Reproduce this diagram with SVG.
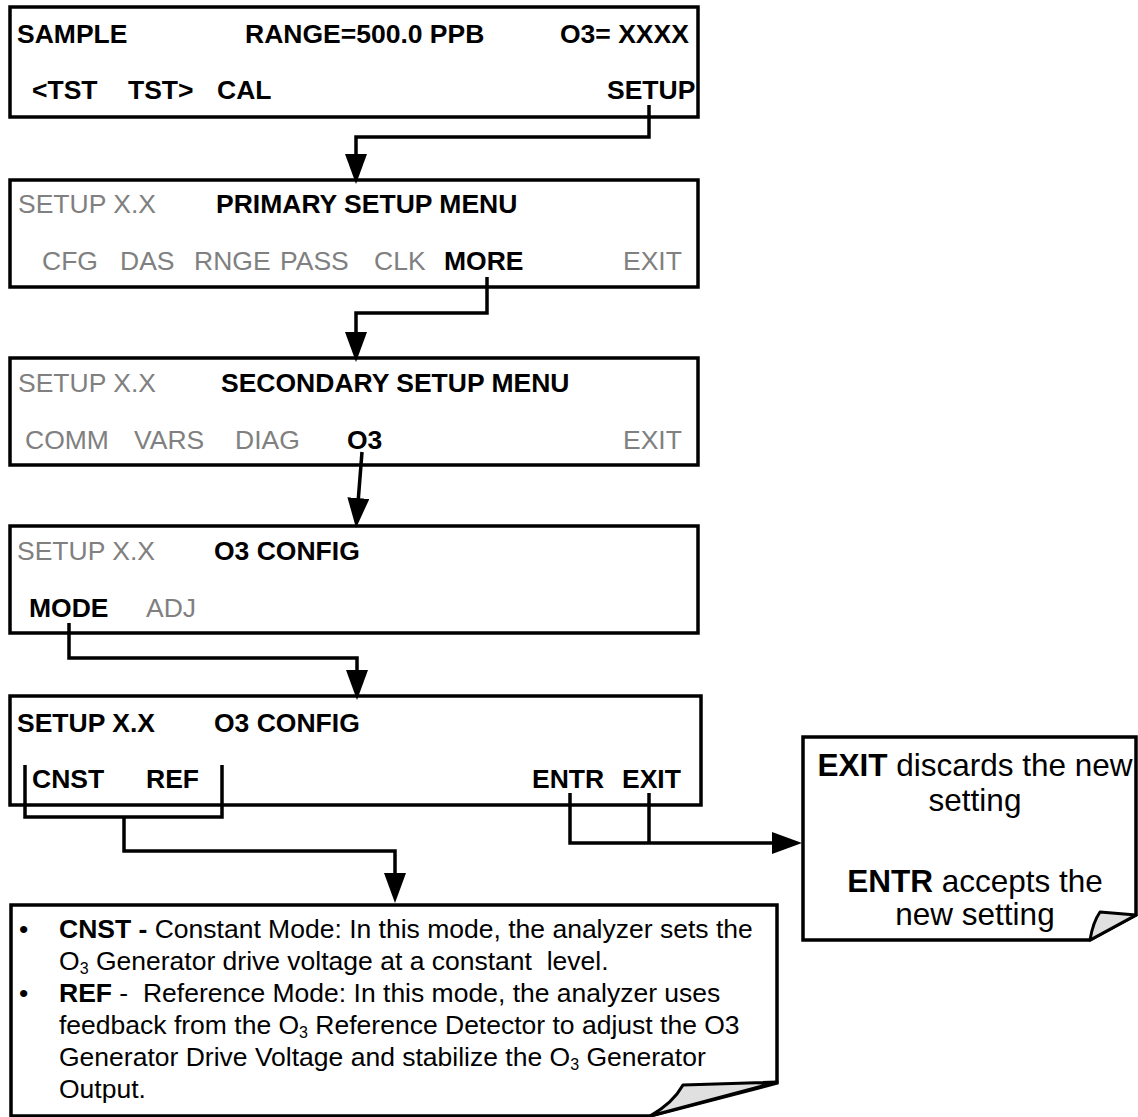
<svg xmlns="http://www.w3.org/2000/svg" width="1138" height="1117" viewBox="0 0 1138 1117">
<style>
.box{fill:#fff;stroke:#000;stroke-width:3.5}
.t{font-family:"Liberation Sans",Arial,sans-serif;font-size:26.5px}
.b{font-weight:bold;fill:#000}
.g{fill:#808080}
.n{font-family:"Liberation Sans",Arial,sans-serif;font-size:26.5px;fill:#000;white-space:pre}
.r{font-family:"Liberation Sans",Arial,sans-serif;font-size:31.5px;fill:#000;text-anchor:middle}
.c{fill:none;stroke:#000;stroke-width:3.5}
.curl{fill:#e0e0e0;stroke:#000;stroke-width:3;stroke-linejoin:round}
</style>
<defs>
<marker id="ah" markerUnits="userSpaceOnUse" markerWidth="30" markerHeight="22" refX="24" refY="11" orient="auto" viewBox="0 0 30 22">
<path d="M0,0 L30,11 L0,22 z" fill="#000"/>
</marker>
</defs>

<g id="screen-sample">
<rect class="box" x="10" y="7" width="688" height="110"/>
<text class="t b" x="17" y="43">SAMPLE</text>
<text class="t b" x="245" y="43">RANGE=500.0 PPB</text>
<text class="t b" x="560" y="43">O3= XXXX</text>
<text class="t b" x="32" y="99">&lt;TST</text>
<text class="t b" x="128" y="99">TST&gt;</text>
<text class="t b" x="217" y="99">CAL</text>
<text class="t b" x="607" y="99">SETUP</text>
</g>

<g id="screen-primary">
<rect class="box" x="10" y="180" width="688" height="107"/>
<text class="t g" x="18" y="213">SETUP X.X</text>
<text class="t b" x="216" y="213">PRIMARY SETUP MENU</text>
<text class="t g" x="42" y="270">CFG</text>
<text class="t g" x="120" y="270">DAS</text>
<text class="t g" x="194" y="270">RNGE</text>
<text class="t g" x="280" y="270">PASS</text>
<text class="t g" x="374" y="270">CLK</text>
<text class="t b" x="444" y="270">MORE</text>
<text class="t g" x="623" y="270">EXIT</text>
</g>

<g id="screen-secondary">
<rect class="box" x="10" y="358" width="688" height="107"/>
<text class="t g" x="18" y="392">SETUP X.X</text>
<text class="t b" x="221" y="392">SECONDARY SETUP MENU</text>
<text class="t g" x="25" y="449">COMM</text>
<text class="t g" x="134" y="449">VARS</text>
<text class="t g" x="235" y="449">DIAG</text>
<text class="t b" x="347" y="449">O3</text>
<text class="t g" x="623" y="449">EXIT</text>
</g>

<g id="screen-o3config">
<rect class="box" x="10" y="526" width="688" height="107"/>
<text class="t g" x="17" y="560">SETUP X.X</text>
<text class="t b" x="214" y="560">O3 CONFIG</text>
<text class="t b" x="29" y="617">MODE</text>
<text class="t g" x="146" y="617">ADJ</text>
</g>

<g id="screen-mode">
<rect class="box" x="10" y="696" width="691" height="109"/>
<text class="t b" x="17" y="732">SETUP X.X</text>
<text class="t b" x="214" y="732">O3 CONFIG</text>
<text class="t b" x="32" y="788">CNST</text>
<text class="t b" x="146" y="788">REF</text>
<text class="t b" x="532" y="788">ENTR</text>
<text class="t b" x="622" y="788">EXIT</text>
</g>

<g id="note-exit">
<path class="box" d="M803 737 H1136 V915 L1090 940 H803 Z"/>
<path class="curl" d="M1100 912 L1136 915 L1090 940 Q1093 922 1100 912 Z"/>
<text class="r" x="975" y="776"><tspan font-weight="bold">EXIT</tspan> discards the new</text>
<text class="r" x="975" y="811">setting</text>
<text class="r" x="975" y="892"><tspan font-weight="bold">ENTR</tspan> accepts the</text>
<text class="r" x="975" y="925">new setting</text>
</g>

<g id="note-mode">
<path class="box" d="M11 905 H777 V1083 L650 1116 H11 Z"/>
<path class="curl" d="M683 1085 L777 1082 L650 1116 Q673 1103 683 1085 Z"/>
<text class="n" x="19" y="938">•</text>
<text class="n" x="59" y="938"><tspan font-weight="bold">CNST -</tspan> Constant Mode: In this mode, the analyzer sets the</text>
<text class="n" x="59" y="970">O<tspan font-size="16" dy="4">3</tspan><tspan dy="-4"> Generator drive voltage at a constant  level.</tspan></text>
<text class="n" x="19" y="1002">•</text>
<text class="n" x="59" y="1002"><tspan font-weight="bold">REF</tspan> -  Reference Mode: In this mode, the analyzer uses</text>
<text class="n" x="59" y="1034">feedback from the O<tspan font-size="16" dy="4">3</tspan><tspan dy="-4"> Reference Detector to adjust the O3</tspan></text>
<text class="n" x="59" y="1066">Generator Drive Voltage and stabilize the O<tspan font-size="16" dy="4">3</tspan><tspan dy="-4"> Generator</tspan></text>
<text class="n" x="59" y="1098">Output.</text>
</g>

<g id="connectors">
<path class="c" d="M649 105 V137 H356 V178" marker-end="url(#ah)"/>
<path class="c" d="M487 277 V313 H356 V356" marker-end="url(#ah)"/>
<path class="c" d="M362 452 L356.5 522" marker-end="url(#ah)"/>
<path class="c" d="M69 623 V658 H357 V694" marker-end="url(#ah)"/>
<path class="c" d="M25 765 V817 H222 V765"/>
<path class="c" d="M124 817 V851 H395 V897" marker-end="url(#ah)"/>
<path class="c" d="M570 793 V843 H796" marker-end="url(#ah)"/>
<path class="c" d="M649 793 V843"/>
</g>
</svg>
